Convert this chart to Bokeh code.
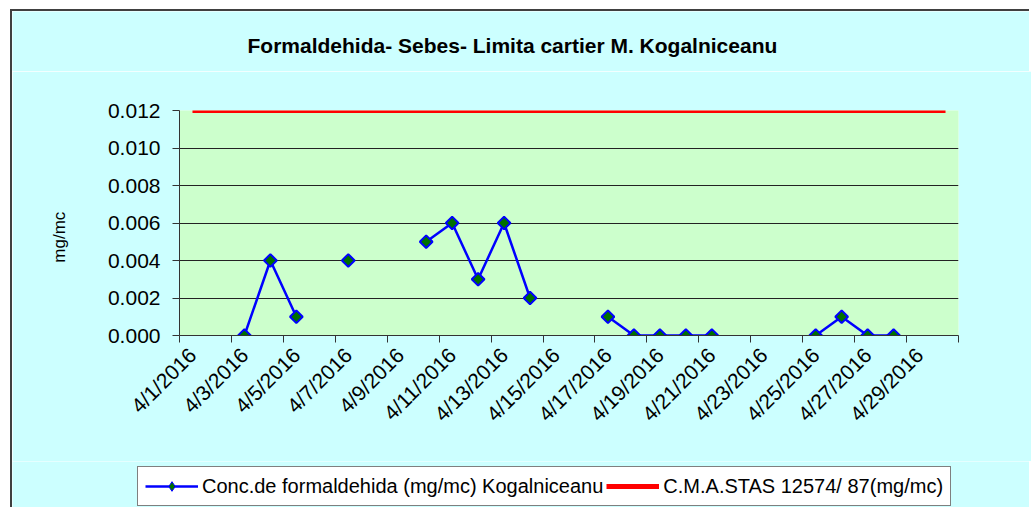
import math
from bokeh.plotting import figure
from bokeh.models import (FixedTicker, PrintfTickFormatter, Legend, LegendItem,
                          Range1d, ColumnDataSource, Label)
from bokeh.embed import file_html
from bokeh.resources import INLINE

nan = float("nan")

# ---- data ----
days = list(range(1, 31))  # April 2016, day of month
conc = [nan, nan, 0.000, 0.004, 0.001, nan, 0.004, nan, nan, 0.005,
        0.006, 0.003, 0.006, 0.002, nan, nan, 0.001, 0.000, 0.000, 0.000,
        0.000, nan, nan, nan, 0.000, 0.001, 0.000, 0.000, nan, nan]
limit = [0.012] * 30
x_label_days = list(range(1, 30, 2))
x_tick_labels = ["4/%d/2016" % d for d in x_label_days]
y_ticks = [0.000, 0.002, 0.004, 0.006, 0.008, 0.010, 0.012]

title_text = "Formaldehida-  Sebes- Limita cartier M. Kogalniceanu"
series1_name = "Conc.de formaldehida (mg/mc) Kogalniceanu"
series2_name = "C.M.A.STAS 12574/ 87(mg/mc)"
y_label = "mg/mc"

FONT = "Liberation Sans"
OUTER = "#CCFFFF"
INNER = "#CCFFCC"
EDGE = "2px solid #404040"
W = 1019

src = ColumnDataSource(dict(x=days, conc=conc, limit=limit))


def bare_figure(height):
    f = figure(width=W, height=height, output_backend="svg", toolbar_location=None,
               x_axis_location=None, y_axis_location=None,
               x_range=Range1d(-10, -9), y_range=Range1d(-10, -9),
               min_border_left=0, min_border_right=0, min_border_top=0,
               min_border_bottom=0)
    f.title.visible = False
    f.grid.visible = False
    f.outline_line_color = None
    f.background_fill_color = OUTER
    f.border_fill_color = OUTER
    return f


# ---- title strip ----
tf = bare_figure(60)
tf.styles = {"border-left": EDGE, "margin-left": "10px", "margin-top": "11px",
             "box-shadow": "0 -2px 0 0 #404040"}
tf.add_layout(Label(x=235, y=26, x_units="screen", y_units="screen", text=title_text,
                    text_font=FONT, text_font_size="21px", text_font_style="bold",
                    text_color="#000000", text_baseline="alphabetic",
                    text_align="left"))

# ---- main chart ----
p = figure(frame_width=779, frame_height=225,
           x_range=Range1d(0.5, 30.5), y_range=Range1d(0, 0.012),
           output_backend="svg", toolbar_location=None,
           min_border_left=167, min_border_right=W - 167 - 779,
           min_border_top=39, min_border_bottom=126)
p.styles = {"border-left": EDGE, "margin-left": "10px"}
p.title.visible = False
p.border_fill_color = OUTER
p.background_fill_color = INNER
p.outline_line_color = None

r_lim = p.line("x", "limit", source=src, line_color="#FF0000", line_width=5)
r_line = p.line("x", "conc", source=src, line_color="#0000FF", line_width=2.5)
r_pts = p.scatter("x", "conc", source=src, marker="square", angle=math.pi / 4,
                  size=9, fill_color="#007000", line_color="#0000FF", line_width=2)

xa = p.xaxis[0]
xa.ticker = FixedTicker(ticks=x_label_days,
                        minor_ticks=[d - 0.5 for d in range(1, 32, 2)])
xa.major_label_overrides = {d: lab for d, lab in zip(x_label_days, x_tick_labels)}
xa.major_label_orientation = math.pi / 4
xa.major_tick_in = 0
xa.major_tick_out = 0
xa.minor_tick_in = 0
xa.minor_tick_out = 7
xa.minor_tick_line_color = "#333333"
xa.axis_line_color = "#333333"
xa.major_label_text_font = FONT
xa.major_label_text_font_size = "21px"
xa.major_label_text_color = "#000000"
xa.major_label_standoff = 9

ya = p.yaxis[0]
ya.ticker = FixedTicker(ticks=y_ticks)
ya.formatter = PrintfTickFormatter(format="%.3f")
ya.major_tick_in = 0
ya.major_tick_out = 7
ya.minor_tick_out = 0
ya.minor_tick_in = 0
ya.major_tick_line_color = "#333333"
ya.axis_line_color = "#333333"
ya.major_label_text_font = FONT
ya.major_label_text_font_size = "21px"
ya.major_label_text_color = "#000000"
ya.major_label_standoff = 12
ya.axis_label = y_label + "\u00a0" * 6
ya.axis_label_text_font = FONT
ya.axis_label_text_font_size = "17px"
ya.axis_label_text_font_style = "normal"
ya.axis_label_text_color = "#000000"
ya.axis_label_standoff = 36

p.xgrid.grid_line_color = None
p.ygrid.ticker = FixedTicker(ticks=y_ticks)
p.ygrid.grid_line_color = "#222222"
p.ygrid.grid_line_width = 1

# ---- legend strip ----
lf = bare_figure(46)
lf.styles = {"border-left": EDGE, "margin-left": "10px"}
l_lim = lf.line("x", "limit", source=src, line_color="#FF0000", line_width=5)
l_line = lf.line("x", "conc", source=src, line_color="#0000FF", line_width=2.5)
l_pts = lf.scatter("x", "conc", source=src, marker="diamond",
                   size=13, fill_color="#007000", line_color="#0000FF", line_width=1)
legend = Legend(items=[LegendItem(label=series1_name, renderers=[l_line, l_pts]),
                       LegendItem(label=series2_name, renderers=[l_lim])],
                orientation="horizontal", location=(125, 1))
legend.border_line_color = "#000000"
legend.border_line_width = 1
legend.background_fill_color = "#FFFFFF"
legend.background_fill_alpha = 1
legend.label_text_font = FONT
legend.label_text_font_size = "20px"
legend.label_text_color = "#000000"
legend.glyph_width = 53
legend.glyph_height = 24
legend.label_standoff = 4
legend.spacing = 3
legend.padding = 7
legend.margin = 0
lf.add_layout(legend)

open("out.html", "w").write(file_html([tf, p, lf], INLINE))
